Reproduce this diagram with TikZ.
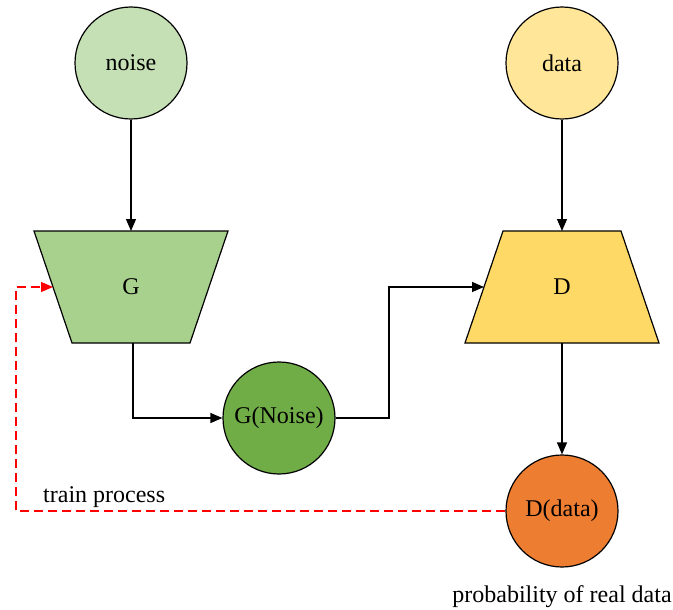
\documentclass[tikz,border=0pt]{standalone}
\usepackage{fontspec}
\setmainfont{Liberation Serif}
\usetikzlibrary{arrows.meta}
\definecolor{noisefill}{HTML}{C5E0B4}
\definecolor{gfill}{HTML}{A9D18E}
\definecolor{gnfill}{HTML}{70AD47}
\definecolor{datafill}{HTML}{FFE699}
\definecolor{dfill}{HTML}{FFD966}
\definecolor{ddfill}{HTML}{ED7D31}
\definecolor{trainred}{HTML}{FF0000}
\tikzset{
  circ/.style={circle, draw=black, line width=1.2pt, minimum size=112pt, inner sep=0pt},
  trap/.style={draw=black, line width=1.2pt, line join=miter},
  lbl/.style={inner sep=0pt},
  arr/.style={draw=black, line width=1.2pt, -{Triangle[length=12pt,width=10pt]}},
  trainarr/.style={draw=trainred, line width=1.2pt, dash pattern=on 9pt off 5pt, -{Triangle[length=12pt,width=10pt]}}
}
\begin{document}
\begin{tikzpicture}[x=1pt,y=-1pt,font=\fontsize{24}{28}\selectfont]
\useasboundingbox (0,0) rectangle (673,610);
% top circles
\node[circ, fill=noisefill] (noise) at (131,63) {noise};
\node[circ, fill=datafill] (data) at (562,63) {data};
% G trapezoid
\draw[trap, fill=gfill] (34,231) -- (228,231) -- (190,343) -- (72,343) -- cycle;
\node[lbl] (G) at (131,287) {G};
\coordinate (Gtop) at (131,231);
\coordinate (Gbot) at (133,343);
\coordinate (Gin) at (53,287);
% D trapezoid
\draw[trap, fill=dfill] (503,231) -- (621,231) -- (659,343) -- (465,343) -- cycle;
\node[lbl] (D) at (562,287) {D};
\coordinate (Dtop) at (562,231);
\coordinate (Dbot) at (562,343);
\coordinate (Din) at (484,287);
% middle / bottom circles
\node[circ, fill=gnfill] (Gn) at (279,418) {G(Noise)};
\node[circ, fill=ddfill] (Dd) at (562,511) {D(data)};
% connectors
\coordinate (bend) at (389,418);
\coordinate (rcorner) at (16,511);
\draw[arr] (noise) -- (Gtop);
\draw[arr] (data) -- (Dtop);
\draw[arr] (Gbot) |- (Gn);
\draw[arr] (Gn) -- (bend) |- (Din);
\draw[arr] (Dbot) -- (Dd);
\draw[trainarr] (Dd) -- (rcorner) |- (Gin);
% labels
\node[lbl, anchor=base west] (train) at (43,502) {train process};
\node[lbl] (prob) at (562,597) {probability of real data};
\end{tikzpicture}
\end{document}
